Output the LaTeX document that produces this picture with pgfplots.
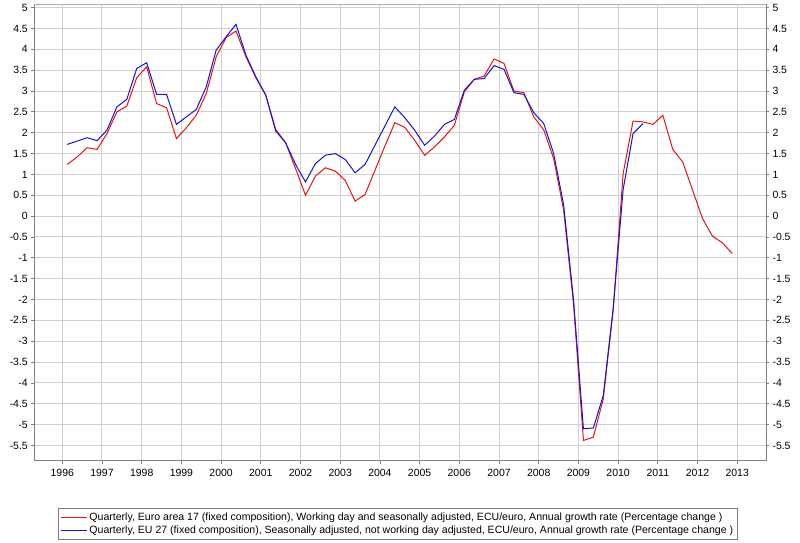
\documentclass[border=0pt]{standalone}
\usepackage{fontspec}
\setmainfont{Liberation Sans}
\usepackage{pgfplots}
\pgfplotsset{compat=1.18}
\definecolor{redl}{RGB}{228,20,20}
\definecolor{bluel}{RGB}{20,20,215}
\definecolor{gridc}{RGB}{208,208,208}
\definecolor{axisc}{RGB}{128,128,128}
\definecolor{topc}{RGB}{175,175,175}
\begin{document}
\begin{tikzpicture}
\pgfplotsset{
  common/.style={
    at={(0,0)}, anchor=south west,
    scale only axis, width=731.7bp, height=456.2bp,
    xmin=1995.295, xmax=2013.723, ymin=-5.86, ymax=5.08,
    ytick={-5.5,-5,...,5},
    tick align=outside, major tick length=3bp,
    tick style={axisc, line width=0.8bp},
    axis line style={axisc, line width=1bp},
    ticklabel style={font=\fontsize{10.5}{12}\selectfont},
    /pgf/number format/assume math mode=true,
  }
}
\begin{axis}[common,
  xtick={1996,...,2013},
  xticklabel style={/pgf/number format/1000 sep={}, yshift=-2.5bp},
  grid=major, major grid style={gridc, line width=1bp},
  axis x line*=bottom, axis y line*=left,
  legend style={at={(0.4968,-0.1035)}, anchor=north, draw=axisc, line width=0.8bp,
    font=\fontsize{10.6}{12}\selectfont, inner xsep=2bp, inner ysep=2.5bp, row sep=0.5bp,
    legend cell align=left},
  legend image code/.code={\draw[#1, line width=1bp] (0bp,0bp) -- (26bp,0bp);},
]
\draw[topc, line width=1bp] (rel axis cs:0,1) -- (rel axis cs:1,1);
\addplot[redl, line width=1bp] coordinates {
(1996.125,1.24)(1996.375,1.42)(1996.625,1.64)(1996.875,1.60)
(1997.125,1.98)(1997.375,2.50)(1997.625,2.64)(1997.875,3.32)
(1998.125,3.58)(1998.375,2.70)(1998.625,2.60)(1998.875,1.86)
(1999.125,2.12)(1999.375,2.42)(1999.625,2.94)(1999.875,3.82)
(2000.125,4.28)(2000.375,4.44)(2000.625,3.82)(2000.875,3.32)
(2001.125,2.90)(2001.375,2.08)(2001.625,1.76)(2001.875,1.14)
(2002.125,0.50)(2002.375,0.96)(2002.625,1.16)(2002.875,1.08)
(2003.125,0.86)(2003.375,0.36)(2003.625,0.52)(2003.875,1.10)
(2004.125,1.68)(2004.375,2.24)(2004.625,2.13)(2004.875,1.82)
(2005.125,1.46)(2005.375,1.66)(2005.625,1.90)(2005.875,2.18)
(2006.125,2.98)(2006.375,3.28)(2006.625,3.36)(2006.875,3.77)
(2007.125,3.66)(2007.375,3.00)(2007.625,2.96)(2007.875,2.38)
(2008.125,2.07)(2008.375,1.38)(2008.625,0.15)(2008.875,-2.10)
(2009.125,-5.38)(2009.375,-5.30)(2009.625,-4.38)(2009.875,-2.25)
(2010.125,1.02)(2010.375,2.28)(2010.625,2.26)(2010.875,2.20)
(2011.125,2.42)(2011.375,1.60)(2011.625,1.30)(2011.875,0.62)
(2012.125,-0.06)(2012.375,-0.48)(2012.625,-0.64)(2012.875,-0.90)
};
\addlegendentry{Quarterly, Euro area 17 (fixed composition), Working day and seasonally adjusted, ECU/euro, Annual growth rate (Percentage change )}
\addplot[bluel, line width=1bp] coordinates {
(1996.125,1.72)(1996.375,1.80)(1996.625,1.88)(1996.875,1.81)
(1997.125,2.06)(1997.375,2.62)(1997.625,2.80)(1997.875,3.54)
(1998.125,3.68)(1998.375,2.92)(1998.625,2.92)(1998.875,2.20)
(1999.125,2.38)(1999.375,2.56)(1999.625,3.10)(1999.875,3.98)
(2000.125,4.30)(2000.375,4.60)(2000.625,3.86)(2000.875,3.34)
(2001.125,2.90)(2001.375,2.04)(2001.625,1.76)(2001.875,1.24)
(2002.125,0.82)(2002.375,1.26)(2002.625,1.46)(2002.875,1.50)
(2003.125,1.36)(2003.375,1.04)(2003.625,1.24)(2003.875,1.70)
(2004.125,2.16)(2004.375,2.62)(2004.625,2.36)(2004.875,2.06)
(2005.125,1.70)(2005.375,1.92)(2005.625,2.20)(2005.875,2.32)
(2006.125,3.02)(2006.375,3.28)(2006.625,3.30)(2006.875,3.61)
(2007.125,3.52)(2007.375,2.96)(2007.625,2.92)(2007.875,2.48)
(2008.125,2.22)(2008.375,1.50)(2008.625,0.28)(2008.875,-2.00)
(2009.125,-5.10)(2009.375,-5.08)(2009.625,-4.30)(2009.875,-2.20)
(2010.125,0.64)(2010.375,1.98)(2010.625,2.22)
};
\addlegendentry{Quarterly, EU 27 (fixed composition), Seasonally adjusted, not working day adjusted, ECU/euro, Annual growth rate (Percentage change )}
\end{axis}
\begin{axis}[common,
  hide x axis, axis y line*=right,
]
\addplot[draw=none] coordinates {(2000,0)};
\end{axis}
\pgfresetboundingbox
\useasboundingbox (-34.3bp,-82.5bp) rectangle (765.7bp,460.5bp);
\end{tikzpicture}
\end{document}
